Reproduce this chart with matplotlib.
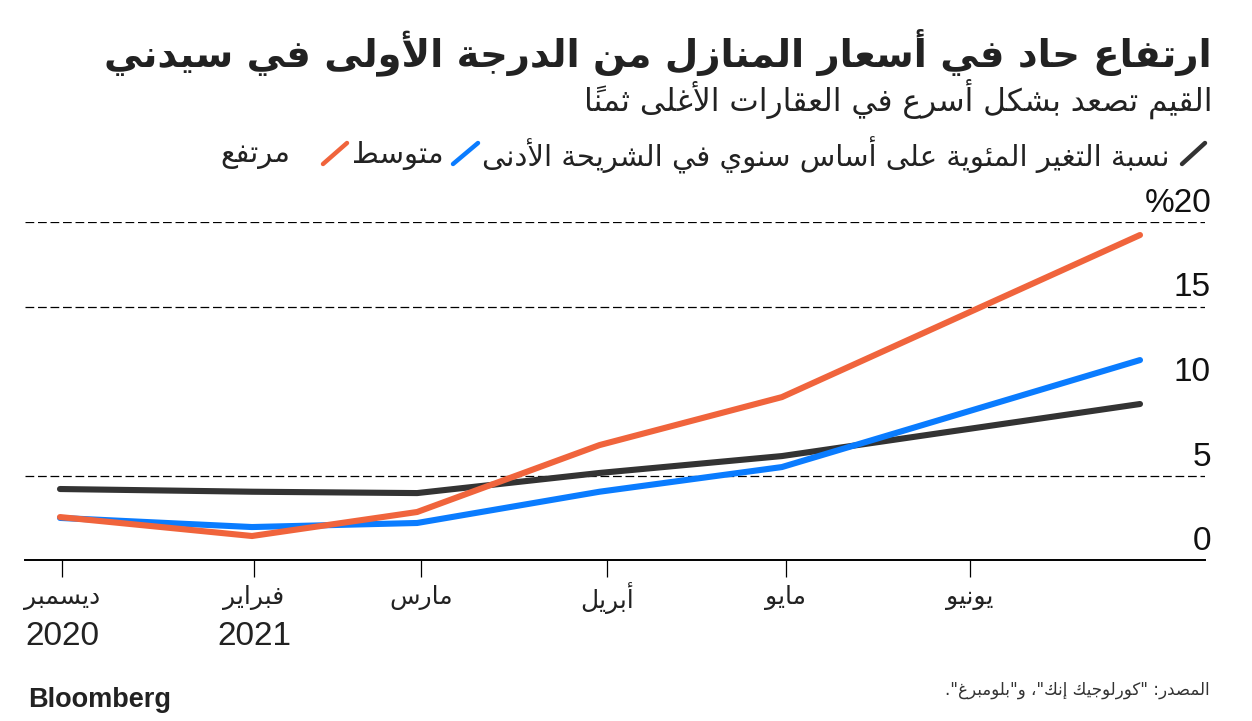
import matplotlib
matplotlib.use('Agg')
import matplotlib.pyplot as plt
from matplotlib.lines import Line2D

# data
months = ['ديسمبر', 'فبراير', 'مارس', 'أبريل', 'مايو', 'يونيو']
years = ['2020', '2021', '', '', '', '']
tick_pos = [0.01, 1.01, 1.88, 2.85, 3.78, 4.74]
point_x = [0.0, 1.0, 1.86, 2.81, 3.76, 5.625]
low = [4.20, 4.04, 3.96, 5.15, 6.15, 9.23]
mid = [2.49, 1.95, 2.19, 4.04, 5.50, 11.83]
high = [2.54, 1.42, 2.84, 6.80, 9.64, 19.23]
y_ticks = [0, 5, 10, 15, 20]
y_labels = ['0', '5', '10', '15', '%20']
grid_vals = [5, 15, 20]

title = 'ارتفاع حاد في أسعار المنازل من الدرجة الأولى في سيدني'
subtitle = 'القيم تصعد بشكل أسرع في العقارات الأغلى ثمناً'
legend_names = ['نسبة التغير المئوية على أساس سنوي في الشريحة الأدنى', 'متوسط', 'مرتفع']
source = 'المصدر: "كورلوجيك إنك"، و"بلومبرغ".'

BLACK = '#333333'
BLUE = '#0a7cff'
ORANGE = '#f0643c'
colors = [BLACK, BLUE, ORANGE]

# --- tiny arabic shaper (matplotlib has no bidi / joining) ---
FORMS = {
    '\u0621': (0xFE80, 1), '\u0622': (0xFE81, 2), '\u0623': (0xFE83, 2), '\u0624': (0xFE85, 2),
    '\u0625': (0xFE87, 2), '\u0626': (0xFE89, 4), '\u0627': (0xFE8D, 2), '\u0628': (0xFE8F, 4),
    '\u0629': (0xFE93, 2), '\u062A': (0xFE95, 4), '\u062B': (0xFE99, 4), '\u062C': (0xFE9D, 4),
    '\u062D': (0xFEA1, 4), '\u062E': (0xFEA5, 4), '\u062F': (0xFEA9, 2), '\u0630': (0xFEAB, 2),
    '\u0631': (0xFEAD, 2), '\u0632': (0xFEAF, 2), '\u0633': (0xFEB1, 4), '\u0634': (0xFEB5, 4),
    '\u0635': (0xFEB9, 4), '\u0636': (0xFEBD, 4), '\u0637': (0xFEC1, 4), '\u0638': (0xFEC5, 4),
    '\u0639': (0xFEC9, 4), '\u063A': (0xFECD, 4), '\u0641': (0xFED1, 4), '\u0642': (0xFED5, 4),
    '\u0643': (0xFED9, 4), '\u0644': (0xFEDD, 4), '\u0645': (0xFEE1, 4), '\u0646': (0xFEE5, 4),
    '\u0647': (0xFEE9, 4), '\u0648': (0xFEED, 2), '\u0649': (0xFEEF, 2), '\u064A': (0xFEF1, 4),
}
LAM_ALEF = {'\u0622': 0xFEF5, '\u0623': 0xFEF7, '\u0625': 0xFEF9, '\u0627': 0xFEFB}


def is_mark(c):
    return '\u064B' <= c <= '\u0652'


def ar(text):
    n = len(text)
    clusters = []
    i = 0
    while i < n:
        c = text[i]
        if is_mark(c) and clusters:
            clusters[-1] += c
            i += 1
            continue
        if c not in FORMS:
            clusters.append(c)
            i += 1
            continue
        j = i - 1
        while j >= 0 and is_mark(text[j]):
            j -= 1
        p = text[j] if j >= 0 else None
        jp = p in FORMS and FORMS[p][1] == 4 and FORMS[c][1] >= 2
        k = i + 1
        while k < n and is_mark(text[k]):
            k += 1
        q = text[k] if k < n else None
        if c == '\u0644' and q in LAM_ALEF:
            clusters.append(chr(LAM_ALEF[q] + (1 if jp else 0)))
            i = k + 1
            continue
        jn = FORMS[c][1] == 4 and q in FORMS and FORMS[q][1] >= 2
        start, cnt = FORMS[c]
        if cnt == 4:
            off = {(False, False): 0, (True, False): 1, (False, True): 2, (True, True): 3}[(jp, jn)]
        elif cnt == 2:
            off = 1 if jp else 0
        else:
            off = 0
        clusters.append(chr(start + off))
        i += 1
    return ''.join(reversed(clusters))


AR_FONT = 'DejaVu Sans'
NUM_FONT = 'Liberation Sans'

W, H = 1252, 721
fig = plt.figure(figsize=(W / 100, H / 100), dpi=100)
ax = fig.add_axes([25 / W, 1 - 560 / H, (1205 - 25) / W, (560 - 222) / H])

for ys, col in zip([low, mid, high], colors):
    ax.plot(point_x, ys, color=col, linewidth=4.4, solid_capstyle='round',
            solid_joinstyle='round', clip_on=False, zorder=3)

for g in grid_vals:
    ax.axhline(g, color='black', linewidth=0.9, linestyle=(0, (7, 3)), zorder=1)

ax.set_xlim((25 - 60) / 192, (1205 - 60) / 192)
ax.set_ylim(0, 20)
for s in ['top', 'left', 'right']:
    ax.spines[s].set_visible(False)
ax.spines['bottom'].set_linewidth(1.4)
ax.set_yticks([])
ax.set_xticks(tick_pos)
ax.set_xticklabels([])
ax.tick_params(axis='x', length=12, width=0.9, color='black', direction='out')

tr = ax.get_xaxis_transform()
for x, m, yr in zip(tick_pos, months, years):
    ax.text(x, -0.112, ar(m), transform=tr, ha='center', va='center',
            fontsize=18, family=AR_FONT, color='#222222')
    if yr:
        ax.text(x, -0.225, yr, transform=tr, ha='center', va='center',
                fontsize=24, family=NUM_FONT, color='#222222')

ytr = ax.get_yaxis_transform()
for v, lab in zip(y_ticks, y_labels):
    ax.annotate(lab, xy=(1, v), xycoords=ytr, xytext=(6, 3), textcoords='offset pixels',
                ha='right', va='bottom', fontsize=24, family=NUM_FONT, color='#111111')

# titles
fig.text(1212 / W, 1 - 52 / H, ar(title), ha='right', va='center', fontsize=27.7,
         fontweight='bold', family=AR_FONT, color='#222222')
fig.text(1212 / W, 1 - 99 / H, ar(subtitle), ha='right', va='center', fontsize=22.5,
         family=AR_FONT, color='#222222')

# legend: slash positions and text right edges as in the reference
slash_x = [(1182, 1205), (453, 478), (323, 347)]
text_right = [1170, 444, 290]
y_leg = 1 - 155 / H
for name, col, (sx0, sx1), tx in zip(legend_names, colors, slash_x, text_right):
    fig.add_artist(Line2D([sx0 / W, sx1 / W], [1 - 164 / H, 1 - 143 / H],
                          color=col, linewidth=3.2, solid_capstyle='round'))
    fig.text(tx / W, y_leg, ar(name), ha='right', va='center', fontsize=21,
             family=AR_FONT, color='#222222')

fig.text(1210 / W, 1 - 690 / H, ar(source), ha='right', va='center', fontsize=12,
         family=AR_FONT, color='#333333')
fig.text(28 / W, 1 - 700 / H, 'Bloomberg', ha='left', va='center', fontsize=19.5,
         fontweight='bold', family=NUM_FONT, color='#222222')

fig.savefig('out.png', dpi=100, facecolor='white')
